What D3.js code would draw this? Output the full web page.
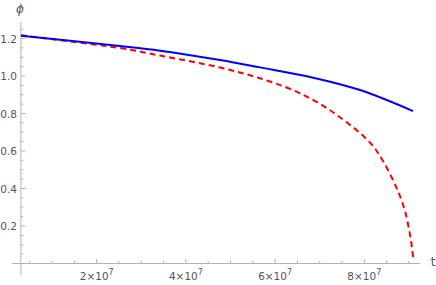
<!DOCTYPE html>
<html>
<head>
  <script src="https://cdnjs.cloudflare.com/ajax/libs/d3/7.8.5/d3.min.js"></script>
  <style>
    body { margin: 0; background: #fff; }
    text { font-family: "DejaVu Sans", sans-serif; }
  </style>
</head>
<body>
  <script>
    // data (t in seconds, phi)
    const tBlue = [0.303e7, 2.522e7, 3.419e7, 4.765e7, 5.661e7, 6.783e7, 7.904e7, 9.092e7];
    const phiBlue = [1.215, 1.160, 1.135, 1.085, 1.046, 0.995, 0.925, 0.813];

    const tRed = [0.303e7, 2.522e7, 3.419e7, 4.765e7, 5.661e7, 6.401e7, 6.783e7, 7.164e7,
                  7.522e7, 7.904e7, 8.195e7, 8.419e7, 8.643e7, 8.800e7, 8.913e7, 9.002e7,
                  9.058e7, 9.099e7];
    const phiRed = [1.217, 1.149, 1.109, 1.045, 0.988, 0.925, 0.881, 0.828,
                    0.768, 0.696, 0.627, 0.547, 0.445, 0.360, 0.280, 0.184,
                    0.104, 0.029];

    const xTicks = [2e7, 4e7, 6e7, 8e7];
    const yTicks = [0.2, 0.4, 0.6, 0.8, 1.0, 1.2];

    const width = 436, height = 285;

    let x = d3.scaleLinear().domain([0, 9.25e7]).range([7.5, 420.05]);
    let y = d3.scaleLinear().domain([0, 1.2]).range([263.5, 38.5]);

    let svg = d3.select("body").append("svg")
      .attr("width", width)
      .attr("height", height);

    const axisColor = "#b3b3b3";
    const labelColor = "#555";
    const x0 = x(3e6);

    // x axis
    svg.append("line")
      .attr("x1", x(1e6)).attr("x2", 420)
      .attr("y1", y(0)).attr("y2", y(0))
      .attr("stroke", axisColor);

    // y axis
    svg.append("line")
      .attr("x1", x0).attr("x2", x0)
      .attr("y1", 22).attr("y2", 275)
      .attr("stroke", axisColor);

    // x ticks
    let xMinor = d3.range(5e6, 9.01e7, 5e6);
    svg.selectAll(".xt").data(xMinor).enter().append("line")
      .attr("x1", d => x(d)).attr("x2", d => x(d))
      .attr("y1", y(0)).attr("y2", d => y(0) - (xTicks.some(v => Math.abs(v - d) < 1) ? 4.5 : 2.5))
      .attr("stroke", axisColor);

    let xl = svg.selectAll(".xl").data(xTicks).enter().append("text")
      .attr("x", d => x(d))
      .attr("y", 280)
      .attr("text-anchor", "middle")
      .attr("font-size", 10.5)
      .attr("fill", labelColor);
    xl.append("tspan").text(d => (d / 1e7) + "\u00d710");
    xl.append("tspan").attr("dy", -5).attr("font-size", 8).text("7");

    // y ticks
    let yMinor = d3.range(1, 26).map(i => i * 0.05);
    svg.selectAll(".yt").data(yMinor).enter().append("line")
      .attr("x1", x0)
      .attr("x2", (d, i) => x0 + ((i + 1) % 4 === 0 ? 4.5 : 2.5))
      .attr("y1", d => y(d)).attr("y2", d => y(d))
      .attr("stroke", axisColor);

    svg.selectAll(".yl").data(yTicks).enter().append("text")
      .attr("x", 17)
      .attr("y", d => y(d) + 4)
      .attr("text-anchor", "end")
      .attr("font-size", 10.5)
      .attr("fill", labelColor)
      .text(d => d.toFixed(1));

    // axis labels
    svg.append("text")
      .attr("x", 20).attr("y", 13)
      .attr("text-anchor", "middle")
      .attr("font-size", 12)
      .attr("font-style", "italic")
      .attr("fill", labelColor)
      .text("\u03d5");

    svg.append("text")
      .attr("x", 433).attr("y", 266)
      .attr("text-anchor", "middle")
      .attr("font-size", 12)
      .attr("fill", labelColor)
      .text("t");

    // curves
    let line = d3.line()
      .x(d => x(d[0]))
      .y(d => y(d[1]))
      .curve(d3.curveCatmullRom.alpha(0.5));

    svg.append("path")
      .attr("d", line(d3.zip(tRed, phiRed)))
      .attr("fill", "none")
      .attr("stroke", "#ff0000")
      .attr("stroke-width", 2)
      .attr("stroke-dasharray", "6,4");

    svg.append("path")
      .attr("d", line(d3.zip(tBlue, phiBlue)))
      .attr("fill", "none")
      .attr("stroke", "#0000ff")
      .attr("stroke-width", 2);
  </script>
</body>
</html>
